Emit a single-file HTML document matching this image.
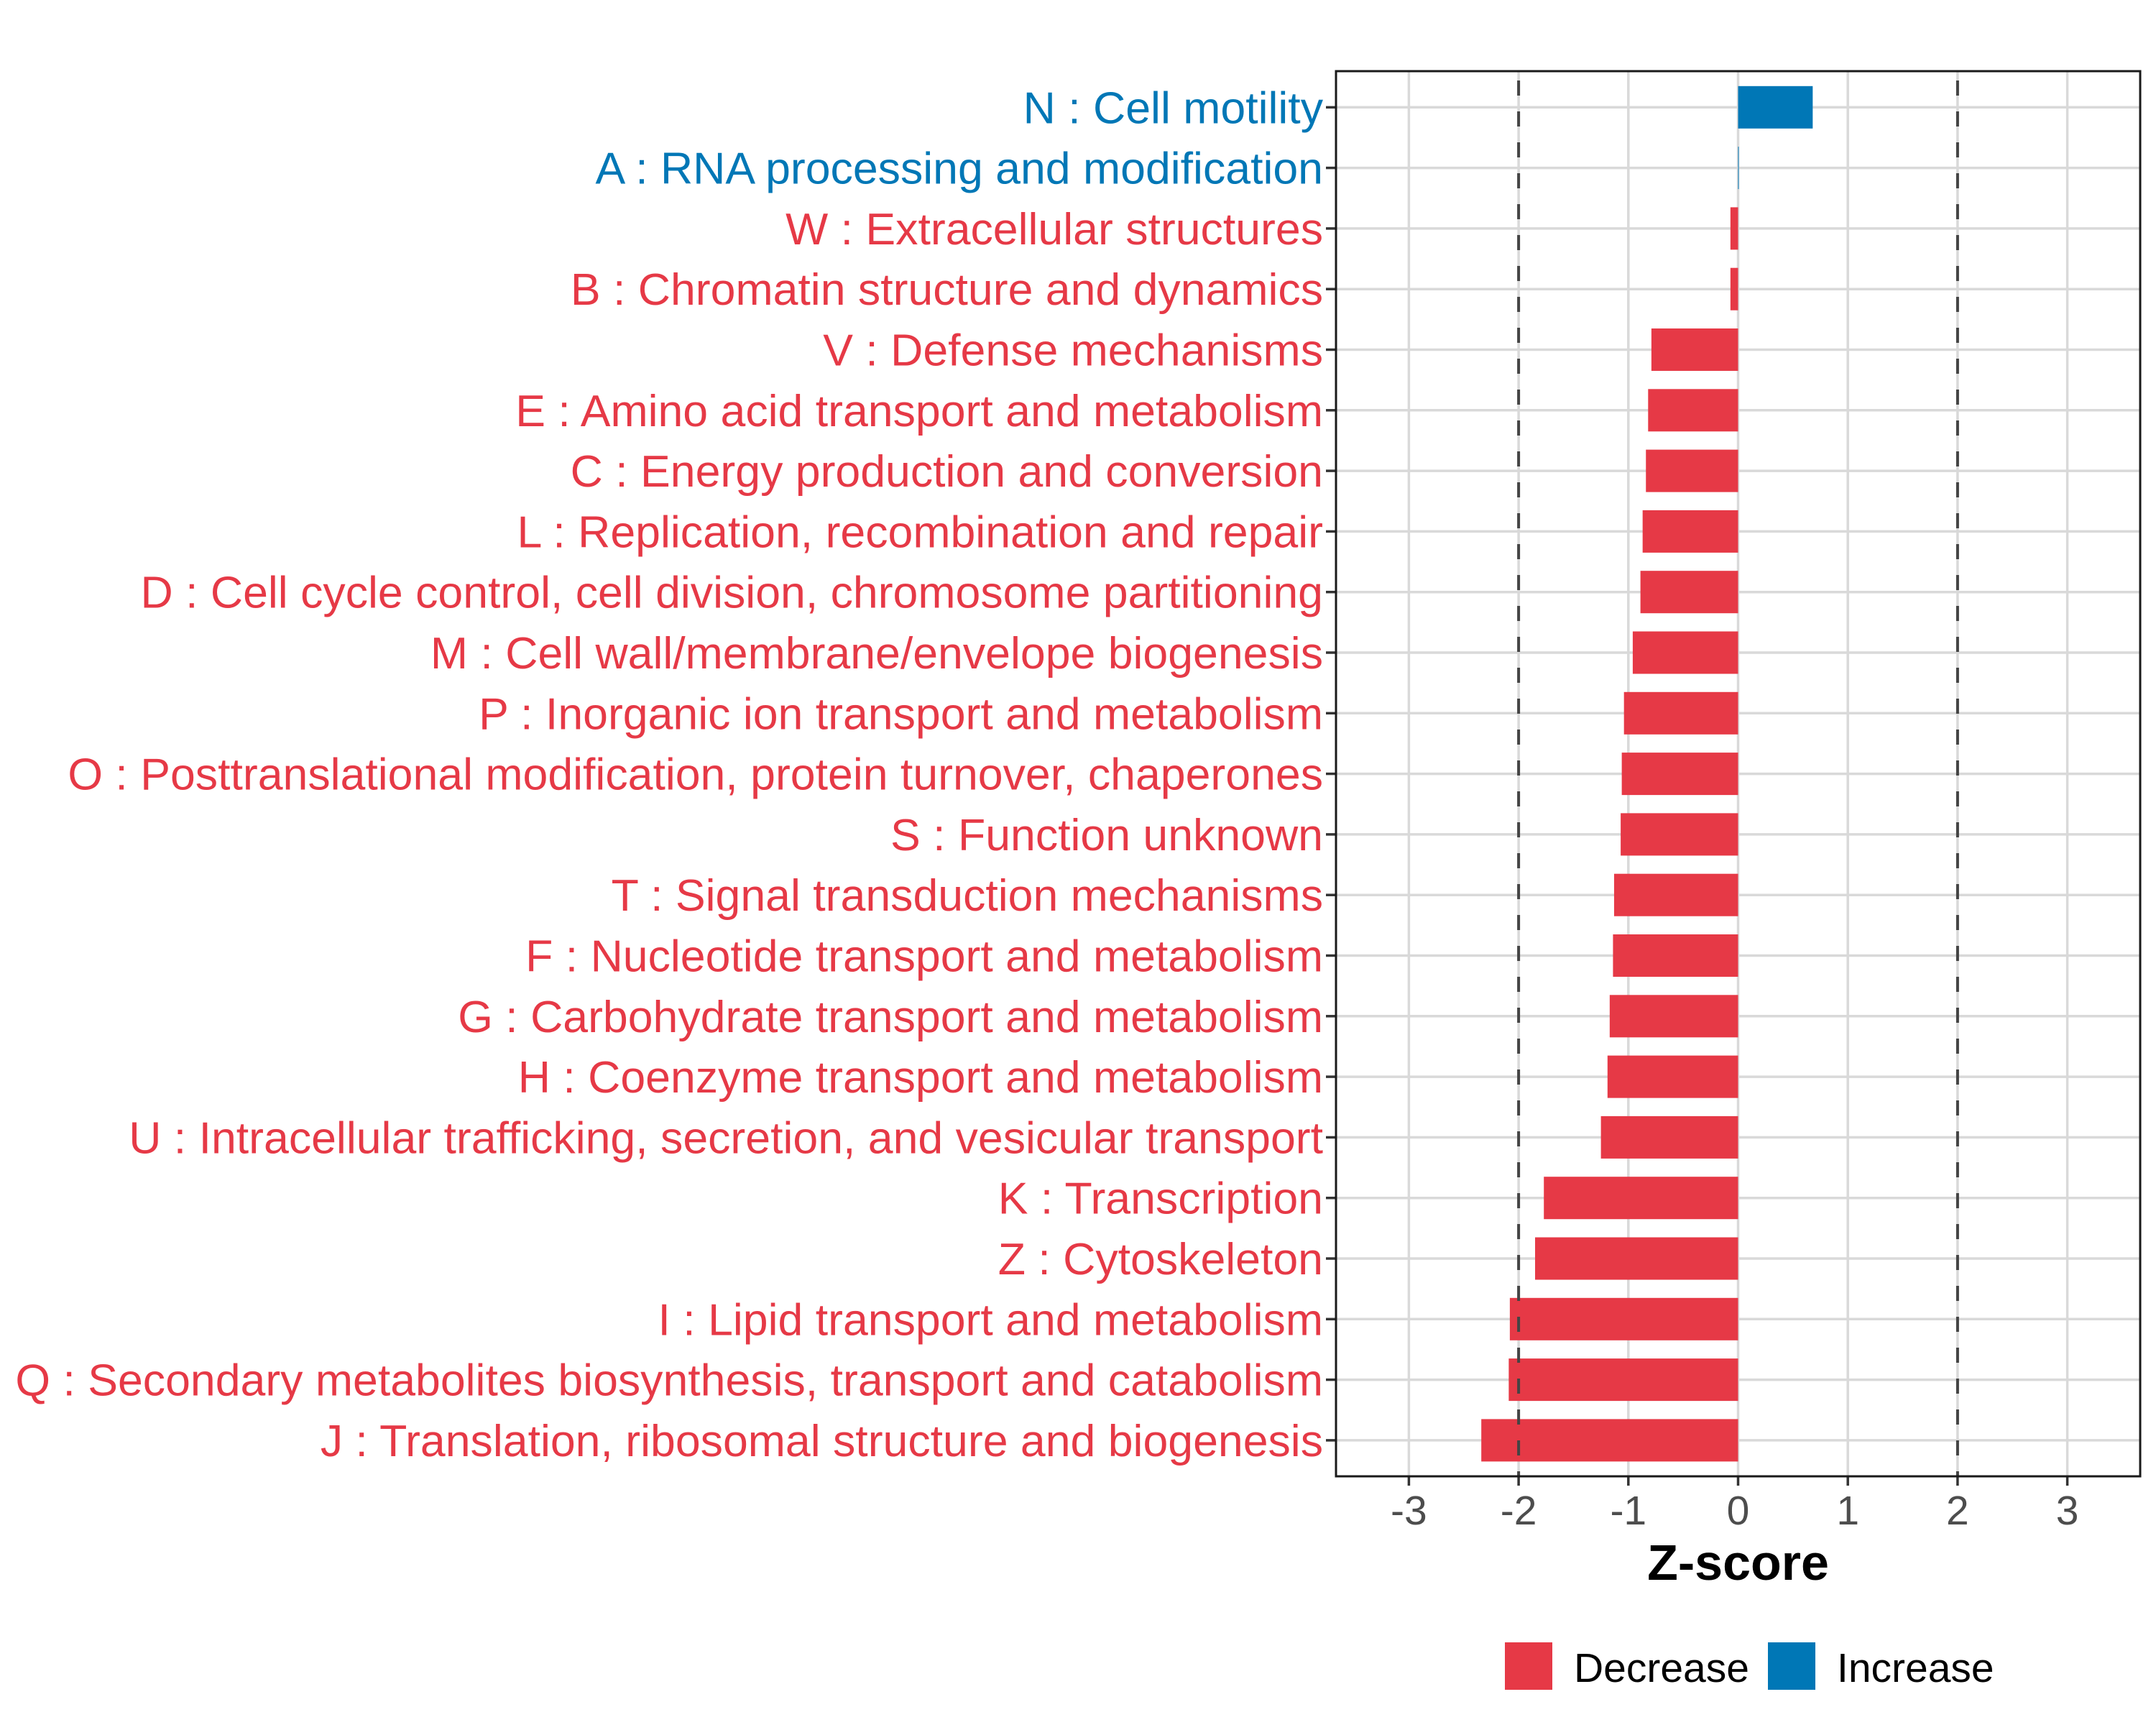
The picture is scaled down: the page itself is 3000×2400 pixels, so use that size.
<!DOCTYPE html>
<html><head><meta charset="utf-8"><style>
html,body{margin:0;padding:0;background:#fff;}
svg{display:block;font-family:"Liberation Sans",Arial,sans-serif;}
</style></head><body>
<svg id="chart" width="3000" height="2400" viewBox="0 0 3000 2400">
<rect width="3000" height="2400" fill="#fff"/>
<g id="grid"></g><g id="bars"></g><g id="ref"></g><g id="axes"></g>
</svg>
<script>
const categories = ["N : Cell motility","A : RNA processing and modification","W : Extracellular structures","B : Chromatin structure and dynamics","V : Defense mechanisms","E : Amino acid transport and metabolism","C : Energy production and conversion","L : Replication, recombination and repair","D : Cell cycle control, cell division, chromosome partitioning","M : Cell wall/membrane/envelope biogenesis","P : Inorganic ion transport and metabolism","O : Posttranslational modification, protein turnover, chaperones","S : Function unknown","T : Signal transduction mechanisms","F : Nucleotide transport and metabolism","G : Carbohydrate transport and metabolism","H : Coenzyme transport and metabolism","U : Intracellular trafficking, secretion, and vesicular transport","K : Transcription","Z : Cytoskeleton","I : Lipid transport and metabolism","Q : Secondary metabolites biosynthesis, transport and catabolism","J : Translation, ribosomal structure and biogenesis"];
const zscores = [0.68,0.005,-0.07,-0.07,-0.79,-0.82,-0.84,-0.87,-0.89,-0.96,-1.04,-1.06,-1.07,-1.13,-1.14,-1.17,-1.19,-1.25,-1.77,-1.85,-2.08,-2.09,-2.34];
const xTicks = [-3,-2,-1,0,1,2,3];
const xTickLabels = ["-3","-2","-1","0","1","2","3"];
const refLines = [-2,2];

const NS="http://www.w3.org/2000/svg";
const RED="#E63946", BLUE="#0077B6";
const P={l:1859,r:2978,t:99,b:2054};
const x0=2418.5, unit=152.7;
const X=v=>x0+v*unit;
const Y=i=>149.3+i*84.3;
function mk(tag,attrs,parent){const e=document.createElementNS(NS,tag);for(const k in attrs)e.setAttribute(k,attrs[k]);parent.appendChild(e);return e;}
const grid=document.getElementById('grid'),bars=document.getElementById('bars'),ref=document.getElementById('ref'),axes=document.getElementById('axes');

xTicks.forEach((t,i)=>{
  const g=mk('line',{x1:X(t),x2:X(t),y1:P.t,y2:P.b,stroke:'#d9d9d9','stroke-width':3.5},grid);
  
  
  const tk=mk('line',{x1:X(t),x2:X(t),y1:P.b,y2:P.b+13,stroke:'#333','stroke-width':3.5},axes);
  
  
  const tl=mk('text',{x:X(t),y:2121,'text-anchor':'middle','font-size':57,fill:'#4d4d4d'},axes);
  tl.textContent=xTickLabels[i];
  
  
});
categories.forEach((c,i)=>{
  const y=Y(i);
  const g=mk('line',{x1:P.l,x2:P.r,y1:y,y2:y,stroke:'#d9d9d9','stroke-width':3.5},grid);
  
  
  const v=zscores[i];
  const col=v>=0?BLUE:RED;
  const h=59;
  const b=mk('rect',{x:Math.min(X(0),X(v)),y:y-h/2,width:Math.max(Math.abs(X(v)-X(0)),1),height:h,fill:col},bars);
  
  
  const tk=mk('line',{x1:P.l-14,x2:P.l,y1:y,y2:y,stroke:'#333','stroke-width':3.5},axes);
  
  
  const tl=mk('text',{x:1841,y:y+22,'text-anchor':'end','font-size':62.6,fill:col},axes);
  tl.textContent=c;
  
  
});
refLines.forEach(r=>{
  const l=mk('line',{x1:X(r),x2:X(r),y1:P.t,y2:P.b,stroke:'#444','stroke-width':4,'stroke-dasharray':'21 22','stroke-dashoffset':-13},ref);
  
  
});
const border=mk('rect',{x:P.l,y:P.t,width:P.r-P.l,height:P.b-P.t,fill:'none',stroke:'#1a1a1a','stroke-width':3},axes);


const xt=mk('text',{x:X(0),y:2198,'text-anchor':'middle','font-size':70,'font-weight':'bold',fill:'#000'},axes);
xt.textContent='Z-score';


const legend=[["Decrease",RED,2094,2190],["Increase",BLUE,2460,2556]];
legend.forEach(([lab,col,kx,tx])=>{
  const k=mk('rect',{x:kx,y:2285,width:66,height:66,fill:col},axes);
  
  
  const t=mk('text',{x:tx,y:2340,'font-size':57,fill:'#000'},axes);
  t.textContent=lab;
  
  
});
</script>
</body></html>
